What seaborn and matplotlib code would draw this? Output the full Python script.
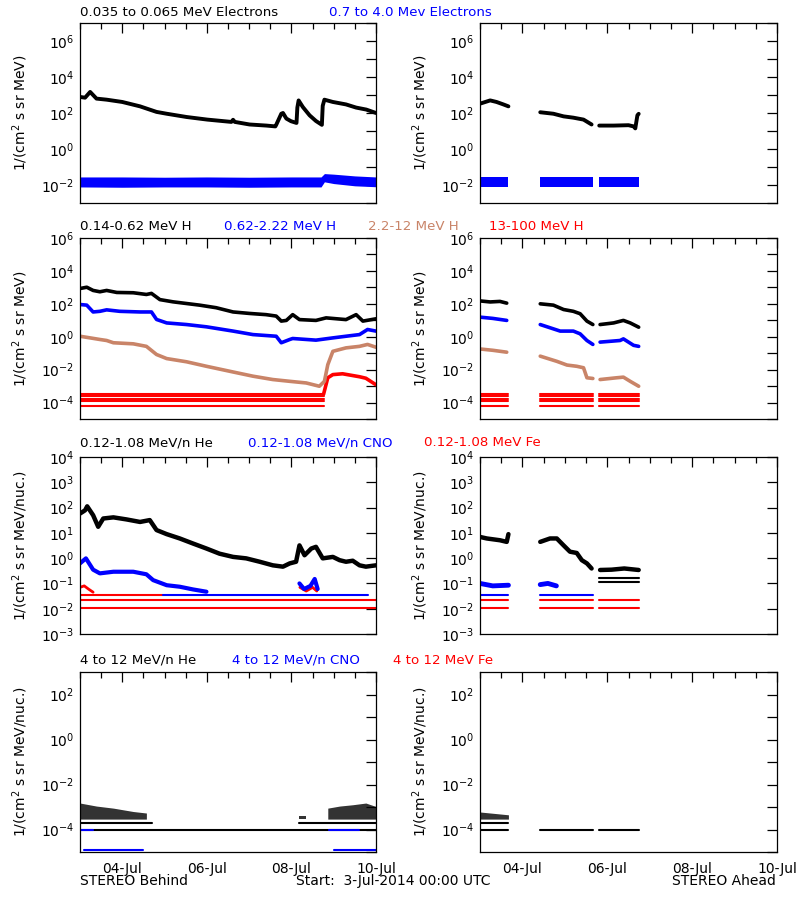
import numpy as np
import pandas as pd
import seaborn as sns
import matplotlib.pyplot as plt
from matplotlib.ticker import FixedLocator, MultipleLocator, FuncFormatter, NullLocator

sns.set_style("white")
plt.rcParams["font.family"] = ["DejaVu Sans"]
plt.rcParams["font.size"] = 10
plt.rcParams["mathtext.default"] = "regular"
plt.rcParams["text.color"] = "black"
plt.rcParams["axes.labelcolor"] = "black"

BLUE = "#0000ff"
RED = "#ff0000"
BROWN = "#c98468"

# time axis in days since 3-Jul-2014 00:00 UTC
day_ticks = [1, 3, 5, 7]
day_labels = ["04-Jul", "06-Jul", "08-Jul", "10-Jul"]

# STEREO Ahead data gaps: the three stretches with data
ahead_spans = [(0.0, 0.67), (1.42, 2.67), (2.81, 3.74)]

# ---- row 1: electrons ----
b_elec_lo_t = [0, 0.12, 0.24, 0.39, 0.63, 1.0, 1.42, 1.81, 2.05, 2.52, 3.01, 3.58, 3.62, 3.66,
               4.01, 4.41, 4.62, 4.64, 4.76, 4.80, 4.88, 4.99, 5.12, 5.14, 5.17, 5.27, 5.43,
               5.58, 5.72, 5.74, 5.78, 5.98, 6.29, 6.53, 6.77, 7.0]
b_elec_lo_v = [780, 710, 1480, 630, 550, 410, 234, 115, 91, 60, 43, 32, 42, 32,
               23, 20, 18, 22, 91, 100, 49, 35, 28, 200, 500, 214, 74,
               36, 22, 250, 550, 410, 300, 200, 155, 100]
b_elec_hi_t = [0, 1, 2, 3, 4, 5, 5.70, 5.78, 6.0, 6.5, 7.0]
b_elec_hi_top = [2.8e-2, 2.8e-2, 2.7e-2, 2.8e-2, 2.7e-2, 2.8e-2, 2.8e-2, 4.3e-2, 4.0e-2, 3.2e-2, 2.8e-2]
b_elec_hi_bot = [7.8e-3, 7.5e-3, 7.8e-3, 7.8e-3, 7.5e-3, 7.8e-3, 7.8e-3, 1.5e-2, 1.2e-2, 9.0e-3, 8.0e-3]

a_elec_lo_t = [[0, 0.24, 0.39, 0.55, 0.67], [1.42, 1.73, 1.97, 2.20, 2.44, 2.63],
               [2.81, 3.15, 3.50, 3.62, 3.66, 3.71, 3.74]]
a_elec_lo_v = [[330, 500, 410, 300, 234], [110, 91, 65, 55, 43, 23],
               [20, 20, 21, 18, 14, 75, 90]]
a_elec_hi_top = 2.8e-2
a_elec_hi_bot = 7.8e-3

# ---- row 2: protons ----
b_h1_t = [0, 0.16, 0.31, 0.47, 0.63, 0.87, 1.26, 1.57, 1.69, 1.89, 2.20, 2.83, 3.22, 3.62,
          4.01, 4.40, 4.64, 4.76, 4.88, 5.03, 5.19, 5.58, 5.82, 6.29, 6.53, 6.69, 7.0]
b_h1_v = [850, 1020, 650, 540, 650, 490, 470, 370, 430, 180, 132, 83, 58, 32,
          26, 22, 18, 8.9, 9.8, 22, 11, 9.8, 14, 11, 22, 8.9, 12.3]
b_h2_t = [0, 0.16, 0.31, 0.47, 0.63, 0.94, 1.42, 1.69, 1.81, 2.05, 2.52, 2.99, 3.62, 4.09,
          4.64, 4.76, 4.96, 5.03, 5.58, 5.98, 6.29, 6.61, 6.80, 7.0]
b_h2_v = [91, 83, 32, 35, 43, 35, 32, 32, 11.2, 6.9, 5.5, 4.0, 2.2, 1.35,
          1.07, 0.43, 0.68, 0.78, 0.62, 0.85, 1.07, 1.35, 2.75, 2.2]
b_h3_t = [0, 0.24, 0.47, 0.63, 0.79, 1.26, 1.57, 1.81, 2.05, 2.52, 2.99, 3.62, 4.09, 4.56,
          4.96, 5.35, 5.66, 5.78, 5.86, 5.98, 6.29, 6.61, 6.80, 7.0]
b_h3_v = [1.07, 0.85, 0.68, 0.59, 0.43, 0.37, 0.26, 0.083, 0.047, 0.030, 0.016, 7.2e-3, 4.0e-3, 2.5e-3,
          1.95e-3, 1.55e-3, 9.8e-4, 1.95e-3, 0.020, 0.13, 0.21, 0.26, 0.34, 0.23]
b_h4_t = [5.76, 5.86, 5.98, 6.21, 6.61, 6.76, 7.0]
b_h4_v = [3.2e-4, 3.2e-3, 5.0e-3, 5.6e-3, 3.7e-3, 3.0e-3, 1.2e-3]
h4_bg_levels = [3.5e-4, 2.4e-4, 1.7e-4, 1.3e-4, 6.6e-5]
b_h4_bg_span = [(0.0, 5.76)]

a_h1_t = [[0, 0.24, 0.47, 0.63], [1.42, 1.73, 1.97, 2.20, 2.36, 2.52, 2.66], [2.83, 3.15, 3.38, 3.54, 3.74]]
a_h1_v = [[150, 130, 140, 110], [100, 83, 45, 35, 25, 8.9, 5.5], [5.5, 6.9, 9.8, 6.9, 3.8]]
a_h2_t = [[0, 0.3, 0.63], [1.42, 1.89, 2.20, 2.36, 2.52, 2.66], [2.83, 3.30, 3.38, 3.62, 3.74]]
a_h2_v = [[15.5, 13, 9.8], [5.5, 2.2, 2.2, 1.5, 0.59, 0.34], [0.47, 0.59, 0.74, 0.30, 0.26]]
a_h3_t = [[0, 0.3, 0.63], [1.42, 1.81, 2.05, 2.28, 2.44, 2.52, 2.66], [2.83, 3.22, 3.38, 3.54, 3.74]]
a_h3_v = [[0.18, 0.15, 0.115], [0.066, 0.032, 0.019, 0.016, 0.013, 3.2e-3, 2.9e-3],
          [2.5e-3, 3.2e-3, 3.5e-3, 1.95e-3, 9.8e-4]]

# ---- row 3: low energy heavy ions ----
b_he_t = [0, 0.12, 0.17, 0.31, 0.43, 0.55, 0.79, 1.10, 1.42, 1.65, 1.81, 2.05, 2.36, 2.67,
          2.99, 3.30, 3.62, 3.93, 4.25, 4.56, 4.80, 4.96, 5.11, 5.19, 5.31, 5.47, 5.58, 5.74,
          5.98, 6.14, 6.29, 6.45, 6.61, 6.76, 7.0]
b_he_v = [58, 78, 112, 50, 17.4, 37, 41, 34, 27, 32, 12.9, 8.9, 6.0, 3.8,
          2.4, 1.5, 1.12, 0.98, 0.72, 0.52, 0.46, 0.62, 0.72, 3.2, 1.3, 2.4, 2.8, 0.98,
          1.12, 0.83, 0.72, 0.79, 0.52, 0.46, 0.52]
b_cno_t = [[0, 0.14, 0.31, 0.47, 0.79, 1.26, 1.57, 1.73, 2.05, 2.36, 2.67, 2.99],
           [5.19, 5.30, 5.45, 5.55, 5.62]]
b_cno_v = [[0.62, 0.98, 0.35, 0.25, 0.29, 0.29, 0.23, 0.135, 0.085, 0.074, 0.058, 0.047],
           [0.10, 0.06, 0.08, 0.15, 0.06]]
b_fe_t = [[0, 0.1, 0.2, 0.31], [5.2, 5.35, 5.5, 5.6]]
b_fe_v = [[0.07, 0.08, 0.06, 0.045], [0.07, 0.05, 0.07, 0.05]]
cno_floor = [0.035]
fe_floor = [0.022, 0.011]
b_fe_high_span = [(0.0, 1.97)]
b_cno_floor_span = [(1.97, 6.8)]

a_he_t = [[0, 0.16, 0.47, 0.63, 0.67], [1.42, 1.65, 1.81, 1.97, 2.12, 2.28, 2.40, 2.52, 2.63],
          [2.83, 3.1, 3.4, 3.74]]
a_he_v = [[6.9, 6.0, 5.1, 4.4, 8.9], [4.4, 6.0, 6.0, 3.2, 1.8, 1.6, 0.83, 0.62, 0.39],
          [0.34, 0.35, 0.39, 0.34]]
a_he_levels = [0.16, 0.11]
a_cno_t = [[0, 0.3, 0.67], [1.42, 1.6, 1.8]]
a_cno_v = [[0.1, 0.08, 0.085], [0.09, 0.1, 0.08]]

# ---- row 4: high energy heavy ions ----
b_he4_t = [[0, 0.39, 0.79, 1.26, 1.57], [5.19, 5.35], [5.86, 6.14, 6.45, 6.76, 7.0]]
b_he4_top = [[1.5e-3, 1.1e-3, 8.9e-4, 6.3e-4, 5.4e-4], [4.0e-4, 4.0e-4], [8.9e-4, 1.1e-3, 1.26e-3, 1.5e-3, 1.05e-3]]
he4_bot = 2.9e-4
he4_levels = [1.9e-4, 1.0e-4]
b_he4_mid_span = [(0.0, 1.7), (5.19, 7.0)]
b_cno4_span = [(0.0, 0.3), (5.9, 6.6)]
cno4_floor = [1.0e-4]
low_floor = [1.26e-5]
b_low_span = [(0.1, 1.5), (6.0, 7.0)]
a_he4_top = [6.0e-4, 4.5e-4]
a_he4_t = [0, 0.67]


def seg_frame(segs_t, segs_v):
    rows = []
    for i, (ts, vs) in enumerate(zip(segs_t, segs_v)):
        for t, v in zip(ts, vs):
            rows.append((i, t, v))
    return pd.DataFrame(rows, columns=["seg", "t", "v"])


def draw(ax, segs_t, segs_v, color, lw=2.6):
    df = seg_frame(segs_t, segs_v)
    sns.lineplot(data=df, x="t", y="v", units="seg", estimator=None, sort=False,
                 color=color, lw=lw, ax=ax, legend=False)


def draw_levels(ax, levels, spans, color, lw=1.5):
    segs_t = [[a, b] for lev in levels for a, b in spans]
    segs_v = [[lev, lev] for lev in levels for a, b in spans]
    draw(ax, segs_t, segs_v, color, lw)


def setup(ax, lo_exp, hi_exp, label_step, ylabel, bottom):
    ax.set_yscale("log")
    ax.set_xlim(0, 7)
    ax.set_ylim(10.0 ** lo_exp, 10.0 ** hi_exp)
    ax.yaxis.set_major_locator(FixedLocator([10.0 ** k for k in range(lo_exp, hi_exp + 1)]))
    ax.yaxis.set_minor_locator(NullLocator())

    def fmt(v, pos):
        k = int(round(np.log10(v)))
        if k % label_step != 0 or (label_step == 2 and k == lo_exp):
            return ""
        return "$10^{%d}$" % k

    ax.yaxis.set_major_formatter(FuncFormatter(fmt))
    ax.xaxis.set_major_locator(FixedLocator(day_ticks))
    ax.xaxis.set_minor_locator(MultipleLocator(0.5))
    if bottom:
        ax.set_xticklabels(day_labels)
    else:
        ax.set_xticklabels([])
    ax.tick_params(axis="both", which="both", direction="in", top=True, right=True,
                   labelsize=10, colors="black", width=0.9)
    ax.tick_params(axis="y", which="major", length=7, pad=4)
    ax.tick_params(axis="x", which="major", length=7, pad=7)
    ax.tick_params(axis="x", which="minor", length=4)
    ax.set_xlabel("")
    ax.set_ylabel(ylabel, fontsize=10, color="black")
    ax.yaxis.set_label_coords(-0.17, 0.5)
    for sp in ax.spines.values():
        sp.set_color("black")
        sp.set_linewidth(0.9)


fig = plt.figure(figsize=(8, 9), dpi=100)
W, H = 800.0, 900.0
rows_px = [(23, 203), (238, 419), (457, 634), (672, 852)]
cols_px = [(80, 376), (480, 777)]
axes = [[fig.add_axes([c0 / W, 1 - b / H, (c1 - c0) / W, (b - t) / H]) for c0, c1 in cols_px]
        for t, b in rows_px]

lab_mev = "1/(cm$^2$ s sr MeV)"
lab_nuc = "1/(cm$^2$ s sr MeV/nuc.)"

# row 1
ax = axes[0][0]
ax.fill_between(b_elec_hi_t, b_elec_hi_bot, b_elec_hi_top, color=BLUE, lw=0)
draw(ax, [b_elec_lo_t], [b_elec_lo_v], "black", 2.8)
ax = axes[0][1]
for a, b in ahead_spans:
    ax.fill_between([a, b], [a_elec_hi_bot] * 2, [a_elec_hi_top] * 2, color=BLUE, lw=0)
draw(ax, a_elec_lo_t, a_elec_lo_v, "black", 2.8)

# row 2
ax = axes[1][0]
draw_levels(ax, h4_bg_levels, b_h4_bg_span, RED)
draw(ax, [b_h4_t], [b_h4_v], RED)
draw(ax, [b_h3_t], [b_h3_v], BROWN)
draw(ax, [b_h2_t], [b_h2_v], BLUE)
draw(ax, [b_h1_t], [b_h1_v], "black")
ax = axes[1][1]
draw_levels(ax, h4_bg_levels, ahead_spans, RED)
draw(ax, a_h3_t, a_h3_v, BROWN)
draw(ax, a_h2_t, a_h2_v, BLUE)
draw(ax, a_h1_t, a_h1_v, "black")

# row 3
ax = axes[2][0]
draw_levels(ax, fe_floor, [(0.0, 7.0)], RED)
draw_levels(ax, cno_floor, b_fe_high_span, RED)
draw_levels(ax, cno_floor, b_cno_floor_span, BLUE)
draw(ax, b_fe_t, b_fe_v, RED, 2.0)
draw(ax, b_cno_t, b_cno_v, BLUE, 3.0)
draw(ax, [b_he_t], [b_he_v], "black", 3.2)
ax = axes[2][1]
draw_levels(ax, fe_floor, ahead_spans, RED)
draw_levels(ax, cno_floor, ahead_spans[:2], BLUE)
draw_levels(ax, a_he_levels, ahead_spans[2:], "black")
draw(ax, a_cno_t, a_cno_v, BLUE, 3.5)
draw(ax, a_he_t, a_he_v, "black", 3.2)

# row 4
ax = axes[3][0]
draw_levels(ax, he4_levels[1:], [(0.0, 7.0)], "black")
draw_levels(ax, he4_levels[:1], b_he4_mid_span, "black")
draw_levels(ax, cno4_floor, b_cno4_span, BLUE)
draw_levels(ax, low_floor, b_low_span, BLUE)
for ts, tops in zip(b_he4_t, b_he4_top):
    ax.fill_between(ts, [he4_bot] * len(ts), tops, color="black", alpha=0.8, lw=0)
ax = axes[3][1]
draw_levels(ax, he4_levels, [ahead_spans[0]], "black")
draw_levels(ax, he4_levels[1:], ahead_spans[1:], "black")
ax.fill_between(a_he4_t, [he4_bot] * 2, a_he4_top, color="black", alpha=0.8, lw=0)

ylims = [(-3, 7, 2, lab_mev), (-5, 6, 2, lab_mev), (-3, 4, 1, lab_nuc), (-5, 3, 2, lab_nuc)]
for r, (lo, hi, step, lab) in enumerate(ylims):
    for c in range(2):
        setup(axes[r][c], lo, hi, step, lab, r == 3)

# row headings
titles = [
    (13, [(80, "0.035 to 0.065 MeV Electrons", "black"), (329, "0.7 to 4.0 Mev Electrons", BLUE)]),
    (226, [(80, "0.14-0.62 MeV H", "black"), (224, "0.62-2.22 MeV H", BLUE),
           (368, "2.2-12 MeV H", BROWN), (489, "13-100 MeV H", RED)]),
    (443, [(80, "0.12-1.08 MeV/n He", "black"), (248, "0.12-1.08 MeV/n CNO", BLUE),
           (424, "0.12-1.08 MeV Fe", RED)]),
    (660, [(80, "4 to 12 MeV/n He", "black"), (232, "4 to 12 MeV/n CNO", BLUE),
           (393, "4 to 12 MeV Fe", RED)]),
]
for y, parts in titles:
    for x, s, col in parts:
        fig.text(x / W, 1 - y / H, s, color=col, fontsize=9.6, ha="left", va="center")

fig.text(80 / W, 1 - 881 / H, "STEREO Behind", fontsize=10, ha="left", va="center", color="black")
fig.text(296 / W, 1 - 881 / H, "Start:  3-Jul-2014 00:00 UTC", fontsize=10, ha="left", va="center",
         color="black")
fig.text(776 / W, 1 - 881 / H, "STEREO Ahead", fontsize=10, ha="right", va="center", color="black")

fig.savefig("out.png", dpi=100, facecolor="white")
